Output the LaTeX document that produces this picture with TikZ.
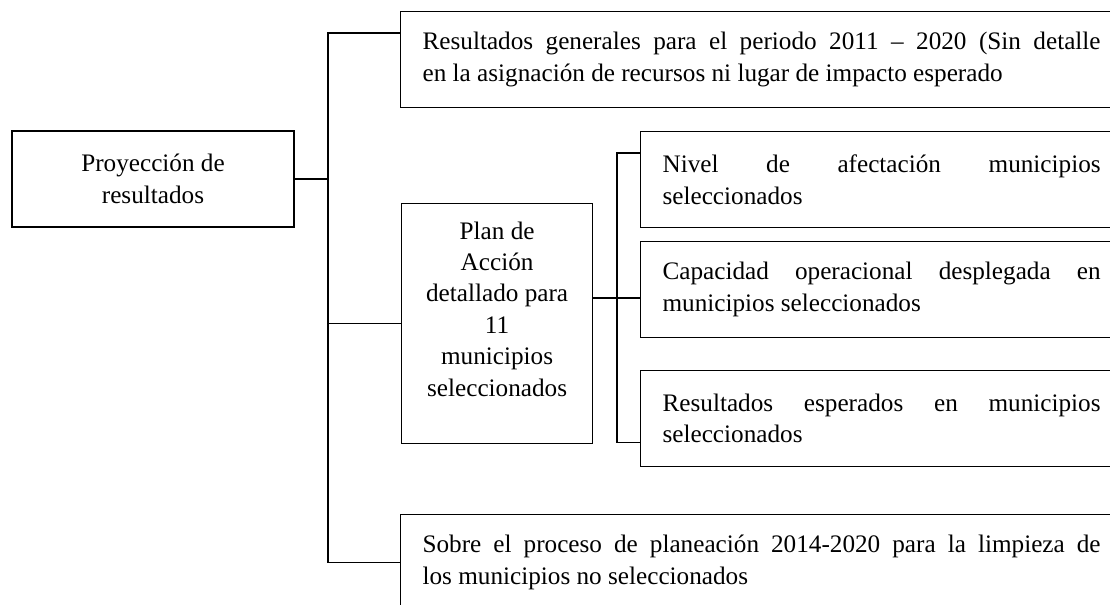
\documentclass[tikz,border=0pt]{standalone}
\usepackage{fontspec}
\setmainfont{Liberation Serif}
\usetikzlibrary{positioning}

\tikzset{
  caja/.style={draw, line width=0.9pt, minimum height=72pt, inner ysep=0pt,
    font={\fontsize{18.9}{23.6}\selectfont\tolerance=10000 \hyphenpenalty=10000}},
  cajalarga/.style={caja, anchor=north west, text width=#1, align=justify, inner xsep=16.5pt},
  linea/.style={line width=0.9pt}
}

\begin{document}
\begin{tikzpicture}[x=0.75pt,y=-0.75pt]
	\useasboundingbox (0,0) rectangle (1110,604);
	\clip (0,0) rectangle (1110,604);
	% cajas
	\node[caja, minimum width=211.5pt, align=center] (proy) at (153,179) {Proyección de\\resultados};
	\node[cajalarga=508.5pt] (gen) at (400,11) {Resultados generales para el periodo 2011 -- 2020 (Sin detalle\linebreak en la asignación de recursos ni lugar de impacto esperado};
	\node[caja, anchor=north west, minimum width=143.25pt, minimum height=180pt, align=center] (plan) at (401,203) {Plan de\\Acción\\detallado para\\11\\municipios\\seleccionados\rule[-22pt]{0pt}{0pt}};
	\node[cajalarga=328.5pt] (niv) at (640,131) {Nivel de afectación municipios\linebreak seleccionados};
	\node[cajalarga=328.5pt] (cap) at (640,241) {Capacidad operacional desplegada en\linebreak municipios seleccionados};
	\node[cajalarga=328.5pt] (esp) at (640,370) {Resultados esperados en municipios\linebreak seleccionados};
	\node[cajalarga=508.5pt] (sob) at (400,514) {Sobre el proceso de planeación 2014-2020 para la limpieza de\linebreak los municipios no seleccionados};
	% conectores
	\coordinate (bus) at (328,179);
	\coordinate (sub) at (617,298);
	\draw[linea] (proy.east) -- (bus);
	\draw[linea] ([yshift=-16.5pt]gen.north west) -| (bus |- sob.west) -- (sob.west);
	\draw[linea] (bus |- plan.west) -- (plan.west);
	\draw[linea] (plan.east |- sub) -- (cap.west |- sub);
	\draw[linea] ([yshift=-16.5pt]niv.north west) -| (sub) |- ([yshift=18.75pt]esp.south west);
\end{tikzpicture}
\end{document}
